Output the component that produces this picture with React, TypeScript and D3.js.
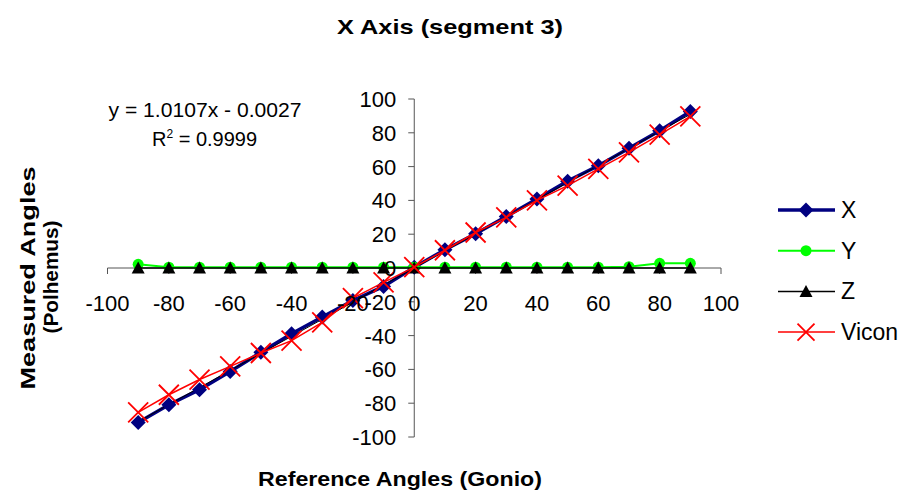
import React from 'react';
import * as d3 from 'd3';

// reference angles (goniometer)
const angles = [-90, -80, -70, -60, -50, -40, -30, -20, -10, 0, 10, 20, 30, 40, 50, 60, 70, 80, 90];

// measured angles per series
const xValues = [-91.4, -80.9, -72, -61.2, -49.9, -38.9, -29, -19.2, -10.9, 0.5, 10.8, 20.3, 30.5, 40.8, 51.4, 60.5, 70.8, 81.2, 92.6];
const yValues = [2.2, 0.5, 0.5, 0.5, 0.5, 0.5, 0.5, 0.5, 0.5, 0.5, 0.5, 0.5, 0.5, 0.5, 0.5, 0.5, 0.8, 2.8, 2.8];
const zValues = [0, 0, 0, 0, 0, 0, 0, 0, 0, 0, 0, 0, 0, 0, 0, 0, 0, 0, 0];
const viconValues = [-85.4, -75, -66, -58.2, -50.3, -43, -32.2, -17.8, -8.5, 0.5, 10.5, 21, 30, 40, 48.7, 58.6, 68.4, 78.9, 89.7];

// linear trendline of the X series
const slope = 1.0107;
const intercept = -0.0027;

const axisTicks = [-100, -80, -60, -40, -20, 0, 20, 40, 60, 80, 100];
const legendLabels = ['X', 'Y', 'Z', 'Vicon'];

const FONT = 'Liberation Sans, Arial, sans-serif';

const diamond = 'M0,-7.5L7.5,0L0,7.5L-7.5,0Z';
const triangle = 'M0,-6.5L6.5,5.5L-6.5,5.5Z';
const cross = (s: number) => `M${-s},${-s}L${s},${s}M${-s},${s}L${s},${-s}`;

const Marker = ({ kind, x, y }: { kind: string; x: number; y: number }) => {
  if (kind === 'X') return <path d={diamond} transform={`translate(${x},${y})`} fill="#000080" />;
  if (kind === 'Y') return <circle cx={x} cy={y} r={5.5} fill="#00ff00" />;
  if (kind === 'Z') return <path d={triangle} transform={`translate(${x},${y})`} fill="#000" />;
  return <path d={cross(10)} transform={`translate(${x},${y})`} stroke="#ff0000" strokeWidth={1.8} fill="none" />;
};

export default function App() {
  const x = d3.scaleLinear().domain([-100, 100]).range([107.5, 721]);
  const y = d3.scaleLinear().domain([-100, 100]).range([437, 99]);

  const series = [
    { key: 'X', values: xValues, color: '#000080', width: 3.5 },
    { key: 'Y', values: yValues, color: '#00ff00', width: 2 },
    { key: 'Z', values: zValues, color: '#000000', width: 1.5 },
    { key: 'Vicon', values: viconValues, color: '#ff0000', width: 1.5 },
  ];

  const line = d3.line<number>()
    .x((_, i) => x(angles[i]))
    .y(d => y(d));

  const x0 = x(0);
  const y0 = y(0);
  const axisColor = '#555';

  const trendX = [angles[0], angles[angles.length - 1]];

  return (
    <svg width={908} height={494} style={{ position: 'absolute', left: 0, top: 0, background: '#fff' }} fontFamily={FONT}>
      <text x={450} y={34} textAnchor="middle" fontSize={21} fontWeight="bold" textLength={226} lengthAdjust="spacingAndGlyphs">X Axis (segment 3)</text>

      {/* axes */}
      <line x1={x(-100)} x2={x(100)} y1={y0} y2={y0} stroke={axisColor} strokeWidth={1} />
      <line x1={x0} x2={x0} y1={y(100)} y2={y(-100)} stroke={axisColor} strokeWidth={1} />
      {axisTicks.map(t => (
        <g key={`t${t}`}>
          <line x1={x(t)} x2={x(t)} y1={y0} y2={y0 + 6} stroke={axisColor} />
          <line x1={x0 - 6} x2={x0} y1={y(t)} y2={y(t)} stroke={axisColor} />
        </g>
      ))}

      {/* series lines and markers */}
      {series.map(s => (
        <g key={s.key}>
          <path d={line(s.values) || ''} fill="none" stroke={s.color} strokeWidth={s.width} />
          {s.key === 'X' && (
            <line x1={x(trendX[0])} x2={x(trendX[1])}
              y1={y(slope * trendX[0] + intercept)} y2={y(slope * trendX[1] + intercept)}
              stroke="#000" strokeWidth={1} />
          )}
          {s.values.map((v, i) => (
            <Marker key={i} kind={s.key} x={x(angles[i])} y={y(v)} />
          ))}
        </g>
      ))}

      {/* tick labels */}
      {axisTicks.map(t => (
        <g key={`l${t}`} fontSize={22}>
          <text x={x(t)} y={y0 + 43} textAnchor="middle">{t}</text>
          <text x={x0 - 18} y={y(t) + 8} textAnchor="end">{t}</text>
        </g>
      ))}

      {/* trendline equation */}
      <text x={205} y={117} textAnchor="middle" fontSize={20} textLength={193} lengthAdjust="spacingAndGlyphs">y = 1.0107x - 0.0027</text>
      <text x={152} y={145.5} fontSize={20}>
        R<tspan fontSize={12} dy={-8}>2</tspan><tspan dy={8}> = 0.9999</tspan>
      </text>

      {/* axis titles */}
      <text x={400} y={486} textAnchor="middle" fontSize={21} fontWeight="bold" textLength={284} lengthAdjust="spacingAndGlyphs">Reference Angles (Gonio)</text>
      <g transform="translate(35,278) rotate(-90)">
        <text x={0} y={0} textAnchor="middle" fontSize={21} fontWeight="bold" textLength={223} lengthAdjust="spacingAndGlyphs">Measured Angles</text>
      </g>
      <g transform="translate(58,277) rotate(-90)">
        <text x={0} y={0} textAnchor="middle" fontSize={21} fontWeight="bold" textLength={113} lengthAdjust="spacingAndGlyphs">(Polhemus)</text>
      </g>

      {/* legend */}
      {legendLabels.map((k, i) => {
        const s = series[i];
        const ly = 210 + i * 40.7;
        return (
          <g key={k}>
            <line x1={778} x2={835} y1={ly} y2={ly} stroke={s.color} strokeWidth={s.width} />
            {k === 'Vicon'
              ? <path d={cross(8.5)} transform={`translate(806,${ly})`} stroke="#ff0000" strokeWidth={1.8} fill="none" />
              : <Marker kind={k} x={806} y={ly} />}
            <text x={841} y={ly + 8} fontSize={23}>{k}</text>
          </g>
        );
      })}
    </svg>
  );
}
